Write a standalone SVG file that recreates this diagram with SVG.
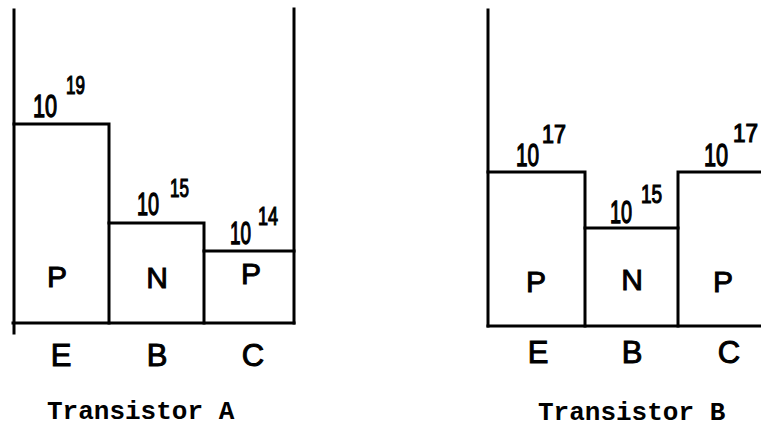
<svg xmlns="http://www.w3.org/2000/svg" width="761" height="432" viewBox="0 0 761 432">
<style>
.ln{fill:none;stroke:#000;stroke-width:3;stroke-linecap:square}
.hw{font-family:"Liberation Sans",Arial,sans-serif;fill:#000;stroke:#000;stroke-width:1}
.base{font-size:31px;stroke-width:1.3}
.sup{font-size:25px;stroke-width:1.2}
.reg{font-size:30px;text-anchor:middle}
.term{font-size:31px;text-anchor:middle}
.cap{font-family:"Liberation Mono","Courier New",monospace;font-size:26px;font-weight:bold;fill:#000}
</style>
<rect width="761" height="432" fill="#fff"/>
<g id="connectors">
<path class="ln" d="M14 10 V333"/>
<path class="ln" d="M294 9 V323"/>
<path class="ln" d="M13 323 H294"/>
<path class="ln" d="M488 10 V326"/>
<path class="ln" d="M488 326 H761"/>
</g>
<g id="A-emitter">
<path class="ln" d="M14 124 H109 V323"/>
<text class="hw base" transform="translate(33 117) scale(0.7 1)">10</text>
<text class="hw sup" transform="translate(66 94) scale(0.68 1)">19</text>
<text class="hw reg" x="57" y="287">P</text>
<text class="hw term" x="61" y="366">E</text>
</g>
<g id="A-base">
<path class="ln" d="M109 223 H204 V323"/>
<text class="hw base" transform="translate(137 215) scale(0.64 1)">10</text>
<text class="hw sup" transform="translate(170 197) scale(0.68 1)">15</text>
<text class="hw reg" x="157" y="288">N</text>
<text class="hw term" x="157" y="366">B</text>
</g>
<g id="A-collector">
<path class="ln" d="M204 251 H294"/>
<text class="hw base" transform="translate(230 244) scale(0.61 1)">10</text>
<text class="hw sup" transform="translate(258 225) scale(0.72 1)">14</text>
<text class="hw reg" x="251" y="284">P</text>
<text class="hw term" x="253" y="366">C</text>
</g>
<g id="B-emitter">
<path class="ln" d="M488 172 H585 V326"/>
<text class="hw base" transform="translate(516 166) scale(0.67 1)">10</text>
<text class="hw sup" transform="translate(542 143) scale(0.86 1)">17</text>
<text class="hw reg" x="536" y="292">P</text>
<text class="hw term" x="538" y="363">E</text>
</g>
<g id="B-base">
<path class="ln" d="M585 228 H678"/>
<text class="hw base" transform="translate(610 223) scale(0.64 1)">10</text>
<text class="hw sup" transform="translate(641 203) scale(0.76 1)">15</text>
<text class="hw reg" x="632" y="290">N</text>
<text class="hw term" x="632" y="363">B</text>
</g>
<g id="B-collector">
<path class="ln" d="M678 326 V172 H761"/>
<text class="hw base" transform="translate(704 166) scale(0.7 1)">10</text>
<text class="hw sup" transform="translate(733 142) scale(0.9 1)">17</text>
<text class="hw reg" x="723" y="292">P</text>
<text class="hw term" x="729" y="363">C</text>
</g>
<g id="captions">
<text class="cap" x="47" y="419">Transistor A</text>
<text class="cap" x="538" y="420">Transistor B</text>
</g>
</svg>
